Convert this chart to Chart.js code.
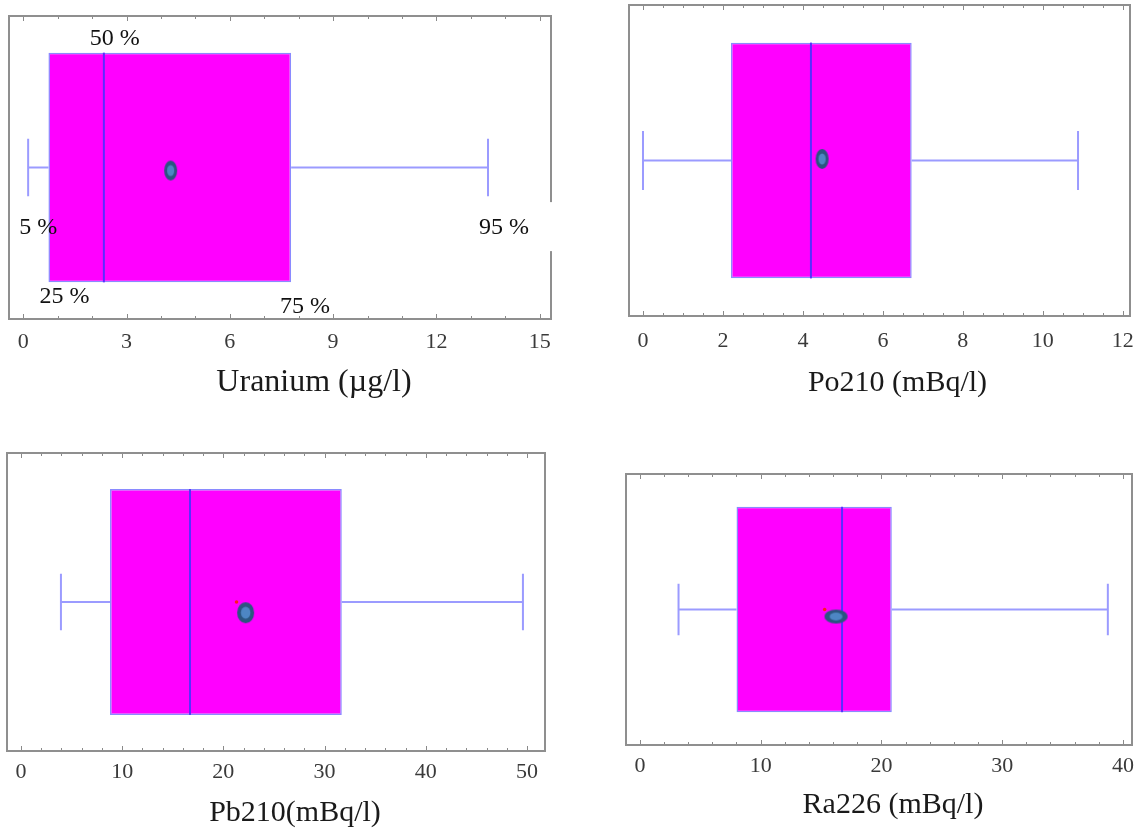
<!DOCTYPE html>
<html>
<head>
<meta charset="utf-8">
<script src="https://cdn.jsdelivr.net/npm/chart.js@4"></script>
<style>
  html, body { margin: 0; padding: 0; background: #fff; }
  #page { position: relative; width: 1137px; height: 829px; overflow: hidden; }
  .panel { position: absolute; }
</style>
</head>
<body>
<div id="page">
  <div class="panel" id="p0" style="left:0;top:0;width:569px;height:420px"><canvas></canvas></div>
  <div class="panel" id="p1" style="left:569px;top:0;width:568px;height:420px"><canvas></canvas></div>
  <div class="panel" id="p2" style="left:0;top:420px;width:569px;height:409px"><canvas></canvas></div>
  <div class="panel" id="p3" style="left:569px;top:420px;width:568px;height:409px"><canvas></canvas></div>
</div>
<script>
// values (Uranium, Po210, Pb210, Ra226)
const axisTitles = ['Uranium (µg/l)', 'Po210 (mBq/l)', 'Pb210(mBq/l)', 'Ra226 (mBq/l)'];
const whiskerLow = [0.14, 0.0, 3.95, 3.2];
const q1 = [0.73, 2.2, 8.8, 8.0];
const median = [2.34, 4.2, 16.7, 16.74];
const q3 = [7.78, 6.72, 31.7, 20.86];
const whiskerHigh = [13.5, 10.88, 49.6, 38.75];
const mean = [4.28, 4.48, 22.2, 16.24];
const redMark = [null, null, 21.3, 15.3];
const majorTicks = [
    [0, 3, 6, 9, 12, 15],
    [0, 2, 4, 6, 8, 10, 12],
    [0, 10, 20, 30, 40, 50],
    [0, 10, 20, 30, 40]
];
const minorStep = [1, 0.5, 2, 2];
const percentileLabels = ['5 %', '25 %', '50 %', '75 %', '95 %'];

// geometry of each panel on the page
const panels = [
    { id: 'p0', pad: { left: 9, right: 18, top: 16, bottom: 0 }, axisH: 101, min: -0.416, max: 15.33,
      tickPad: 10, capDx: 34, capDy: 64, capSize: 32, meanY: 0.49, meanW: 13, meanH: 20, pct: true },
    { id: 'p1', pad: { left: 60, right: 7, top: 5, bottom: 0 }, axisH: 104, min: -0.35, max: 12.18,
      tickPad: 12, capDx: 18, capDy: 67, capSize: 30, meanY: 0.505, meanW: 13, meanH: 20 },
    { id: 'p2', pad: { left: 7, right: 24, top: 33, bottom: 0 }, axisH: 78, min: -1.38, max: 51.78,
      tickPad: 8, capDx: 19, capDy: 62, capSize: 30, meanY: 0.464, meanW: 17, meanH: 21 },
    { id: 'p3', pad: { left: 57, right: 1, top: 54, bottom: 0 }, axisH: 84, min: -1.15, max: 40.75,
      tickPad: 8, capDx: 14, capDy: 60, capSize: 30, meanY: 0.474, meanW: 23, meanH: 14 }
];

// where the percentile notes of the first panel sit: anchor value, px offset, y fraction
const pctPlacement = [
    { from: whiskerLow, dx: 10, yv: 0.30 },
    { from: q1, dx: 16, yv: 0.075 },
    { from: median, dx: 11, yv: 0.926 },
    { from: q3, dx: 14, yv: 0.042 },
    { from: whiskerHigh, dx: 16, yv: 0.30, clear: true }
];

const BOX_LO = 0.121, BOX_HI = 0.879, CAP_LO = 0.405, CAP_HI = 0.595;
const serif = '"Liberation Serif", "Times New Roman", serif';

function meanMarker(w, h) {
    const c = document.createElement('canvas');
    c.width = w + 2;
    c.height = h + 2;
    const g = c.getContext('2d');
    g.fillStyle = '#2b5680';
    g.beginPath();
    g.ellipse(c.width / 2, c.height / 2, w / 2, h / 2, 0, 0, Math.PI * 2);
    g.fill();
    g.fillStyle = '#4d86c4';
    g.beginPath();
    g.ellipse(c.width / 2, c.height / 2, w * 0.28, h * 0.28, 0, 0, Math.PI * 2);
    g.fill();
    return c;
}

const boxDecor = {
    id: 'boxDecor',
    afterDraw(chart, args, opts) {
        const { ctx, chartArea: a } = chart;
        const x = chart.scales.x, yv = chart.scales.yv;
        const i = opts.index;
        ctx.save();
        // inward tick marks top and bottom
        ctx.strokeStyle = '#8a8a8a';
        ctx.lineWidth = 1;
        x.ticks.forEach(t => {
            const px = Math.round(x.getPixelForValue(t.value)) + 0.5;
            const len = majorTicks[i].includes(t.value) ? 5 : 3;
            ctx.beginPath();
            ctx.moveTo(px, a.bottom);
            ctx.lineTo(px, a.bottom - len);
            ctx.moveTo(px, a.top);
            ctx.lineTo(px, a.top + len);
            ctx.stroke();
        });
        // frame
        ctx.strokeStyle = '#8f8f8f';
        ctx.lineWidth = 2;
        ctx.strokeRect(a.left, a.top, a.width, a.height);

        // percentile notes
        if (opts.pct) {
            ctx.font = '24px ' + serif;
            ctx.textAlign = 'center';
            ctx.textBaseline = 'middle';
            pctPlacement.forEach((p, k) => {
                const px = x.getPixelForValue(p.from[i]) + p.dx;
                const py = yv.getPixelForValue(p.yv);
                if (p.clear) {
                    ctx.fillStyle = '#fff';
                    ctx.fillRect(px - 32, py - 26, a.right + 4 - (px - 32), 49);
                }
                ctx.fillStyle = '#111';
                ctx.fillText(percentileLabels[k], px, py);
            });
        }

        // axis caption
        ctx.font = opts.capSize + 'px ' + serif;
        ctx.fillStyle = '#1a1a1a';
        ctx.textAlign = 'center';
        ctx.textBaseline = 'middle';
        ctx.fillText(axisTitles[i], (a.left + a.right) / 2 + opts.capDx, a.bottom + opts.capDy);
        ctx.restore();
    }
};

panels.forEach((p, i) => {
    const ctx = document.querySelector('#' + p.id + ' canvas').getContext('2d');
    new Chart(ctx, {
        type: 'bar',
        data: {
            labels: [''],
            datasets: [
                {
                    type: 'bar',
                    indexAxis: 'y',
                    xAxisID: 'x',
                    yAxisID: 'y',
                    data: [[q1[i], q3[i]]],
                    backgroundColor: '#ff00ff',
                    borderColor: '#8a8aff',
                    borderWidth: 1.5,
                    borderSkipped: false,
                    categoryPercentage: 1,
                    barPercentage: BOX_HI - BOX_LO,
                    order: 3
                },
                {
                    type: 'line',
                    xAxisID: 'x',
                    yAxisID: 'yv',
                    data: [
                        { x: whiskerLow[i], y: CAP_LO }, { x: whiskerLow[i], y: CAP_HI }, { x: whiskerLow[i], y: null },
                        { x: whiskerLow[i], y: 0.5 }, { x: q1[i], y: 0.5 }, { x: q1[i], y: null },
                        { x: q3[i], y: 0.5 }, { x: whiskerHigh[i], y: 0.5 }, { x: whiskerHigh[i], y: null },
                        { x: whiskerHigh[i], y: CAP_LO }, { x: whiskerHigh[i], y: CAP_HI }
                    ],
                    borderColor: 'rgba(130,130,255,0.8)',
                    borderWidth: 2,
                    pointRadius: 0,
                    spanGaps: false,
                    order: 2
                },
                {
                    type: 'line',
                    xAxisID: 'x',
                    yAxisID: 'yv',
                    data: [{ x: median[i], y: BOX_LO }, { x: median[i], y: BOX_HI }],
                    borderColor: '#5a2dff',
                    borderWidth: 2,
                    pointRadius: 0,
                    order: 1
                },
                {
                    type: 'line',
                    xAxisID: 'x',
                    yAxisID: 'yv',
                    data: [{ x: mean[i], y: p.meanY }],
                    showLine: false,
                    pointStyle: meanMarker(p.meanW, p.meanH),
                    order: 0
                },
                {
                    type: 'line',
                    xAxisID: 'x',
                    yAxisID: 'yv',
                    data: redMark[i] === null ? [] : [{ x: redMark[i], y: 0.5 }],
                    showLine: false,
                    pointRadius: 1.8,
                    pointBorderWidth: 0,
                    pointBackgroundColor: '#ff1a1a',
                    order: 0
                }
            ]
        },
        options: {
            responsive: true,
            maintainAspectRatio: false,
            animation: false,
            events: [],
            layout: { padding: p.pad },
            plugins: {
                legend: { display: false },
                tooltip: { enabled: false },
                boxDecor: { index: i, capDx: p.capDx, capDy: p.capDy, capSize: p.capSize, pct: !!p.pct }
            },
            scales: {
                x: {
                    type: 'linear',
                    position: 'bottom',
                    offset: false,
                    min: p.min,
                    max: p.max,
                    grid: { display: false, drawTicks: false, offset: false },
                    border: { display: false },
                    afterBuildTicks: s => {
                        const last = majorTicks[i][majorTicks[i].length - 1];
                        const n = Math.round(last / minorStep[i]);
                        const t = [];
                        for (let k = 0; k <= n; k++) t.push({ value: k * minorStep[i] });
                        s.ticks = t;
                    },
                    afterFit: s => {
                        s.height = p.axisH;
                        s.paddingLeft = 0;
                        s.paddingRight = 0;
                    },
                    ticks: {
                        autoSkip: false,
                        maxRotation: 0,
                        minRotation: 0,
                        padding: p.tickPad,
                        color: '#3a3a3a',
                        font: { family: serif, size: 22 },
                        callback: v => majorTicks[i].includes(v) ? String(v) : ''
                    }
                },
                y: { type: 'category', display: false, offset: true },
                yv: { type: 'linear', display: false, min: 0, max: 1 }
            }
        },
        plugins: [boxDecor]
    });
});
</script>
</body>
</html>
